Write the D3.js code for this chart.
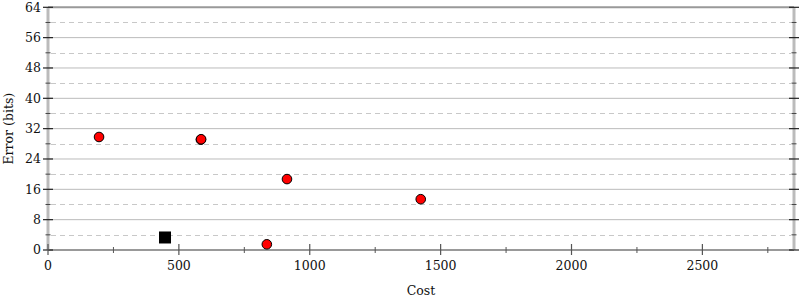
<!DOCTYPE html>
<html>
<head>
<meta charset="utf-8">
<style>
  body { margin: 0; background: #fff; }
  svg text { font-family: "DejaVu Serif", serif; }
</style>
</head>
<body>
<svg width="800" height="300"></svg>
<script src="https://d3js.org/d3.v7.min.js"></script>
<script>
// data
var costs  = [195, 584, 585, 913, 1424, 836];
var errors = [29.8, 29.1, 29.2, 18.7, 13.4, 1.5];
var refCost = [447];
var refError = [3.3];
var xTicks = [0, 500, 1000, 1500, 2000, 2500];
var yTicks = [0, 8, 16, 24, 32, 40, 48, 56, 64];

var svg = d3.select("svg");
var plotLeft = 48, plotRight = 794, plotTop = 7.3, plotBottom = 250;

var x = d3.scaleLinear().domain([0, 2850]).range([plotLeft, plotRight]);
var y = d3.scaleLinear().domain([0, 64]).range([plotBottom, plotTop]);

var minorY = d3.range(4, 64, 8);
var minorX = d3.range(250, 2850, 500);

// grid
svg.append("g").selectAll("line")
  .data(yTicks.filter(function(d) { return d > 0 && d < 64; }))
  .enter().append("line")
    .attr("x1", plotLeft).attr("x2", plotRight)
    .attr("y1", function(d) { return y(d); })
    .attr("y2", function(d) { return y(d); })
    .attr("stroke", "#bbb").attr("stroke-width", 1);
svg.append("g").selectAll("line")
  .data(minorY)
  .enter().append("line")
    .attr("x1", plotLeft + 3).attr("x2", plotRight - 3)
    .attr("y1", function(d) { return Math.round(y(d)) + 0.5; })
    .attr("y2", function(d) { return Math.round(y(d)) + 0.5; })
    .attr("stroke", "#c8c8c8").attr("stroke-width", 1)
    .attr("stroke-dasharray", "5,4");

// frame
svg.append("line").attr("x1", plotLeft).attr("x2", plotRight).attr("y1", y(64)).attr("y2", y(64))
  .attr("stroke", "#999").attr("stroke-width", 2);
svg.append("line").attr("x1", plotLeft).attr("x2", plotRight).attr("y1", plotBottom).attr("y2", plotBottom)
  .attr("stroke", "#999").attr("stroke-width", 2);
svg.append("line").attr("x1", plotLeft).attr("x2", plotLeft).attr("y1", plotTop).attr("y2", plotBottom)
  .attr("stroke", "#bbb").attr("stroke-width", 3);
svg.append("line").attr("x1", plotRight).attr("x2", plotRight).attr("y1", plotTop).attr("y2", plotBottom)
  .attr("stroke", "#bbb").attr("stroke-width", 3);

// y ticks, both sides
[plotLeft, plotRight].forEach(function(px) {
  svg.append("g").selectAll("line").data(yTicks).enter().append("line")
    .attr("x1", px - 5).attr("x2", px + 5)
    .attr("y1", function(d) { return y(d); }).attr("y2", function(d) { return y(d); })
    .attr("stroke", "#222").attr("stroke-width", 1.2);
  svg.append("g").selectAll("line").data(minorY).enter().append("line")
    .attr("x1", px - 2.5).attr("x2", px + 2.5)
    .attr("y1", function(d) { return y(d); }).attr("y2", function(d) { return y(d); })
    .attr("stroke", "#444").attr("stroke-width", 1);
});

// x ticks
svg.append("g").selectAll("line").data(xTicks).enter().append("line")
  .attr("x1", function(d) { return x(d); }).attr("x2", function(d) { return x(d); })
  .attr("y1", plotBottom - 6).attr("y2", plotBottom + 5)
  .attr("stroke", "#555").attr("stroke-width", 1.2);
svg.append("g").selectAll("line").data(minorX).enter().append("line")
  .attr("x1", function(d) { return x(d); }).attr("x2", function(d) { return x(d); })
  .attr("y1", plotBottom - 3).attr("y2", plotBottom + 3)
  .attr("stroke", "#555").attr("stroke-width", 1);

// tick labels
svg.append("g").selectAll("text").data(yTicks).enter().append("text")
  .attr("x", plotLeft - 7).attr("y", function(d) { return y(d); })
  .attr("dy", "0.35em").attr("text-anchor", "end")
  .attr("font-size", 12.5).attr("fill", "#111")
  .text(function(d) { return d; });
svg.append("g").selectAll("text").data(xTicks).enter().append("text")
  .attr("x", function(d) { return x(d); }).attr("y", 269.5)
  .attr("text-anchor", "middle")
  .attr("font-size", 12.5).attr("fill", "#111")
  .text(function(d) { return d; });

// axis titles
svg.append("text")
  .attr("x", (plotLeft + plotRight) / 2).attr("y", 294.5)
  .attr("text-anchor", "middle").attr("font-size", 12.5).attr("fill", "#111")
  .text("Cost");
svg.append("text")
  .attr("transform", "translate(13," + ((plotTop + plotBottom) / 2) + ") rotate(-90)")
  .attr("text-anchor", "middle").attr("font-size", 12.5).attr("fill", "#111")
  .text("Error (bits)");

// points
svg.append("g").selectAll("circle").data(costs).enter().append("circle")
  .attr("cx", function(d) { return x(d); })
  .attr("cy", function(d, i) { return y(errors[i]); })
  .attr("r", 4.8)
  .attr("fill", "#f00").attr("stroke", "#000").attr("stroke-width", 1);

svg.append("g").selectAll("rect").data(refCost).enter().append("rect")
  .attr("x", function(d) { return x(d) - 6; })
  .attr("y", function(d, i) { return y(refError[i]) - 6; })
  .attr("width", 12).attr("height", 12)
  .attr("fill", "#000");
</script>
</body>
</html>
